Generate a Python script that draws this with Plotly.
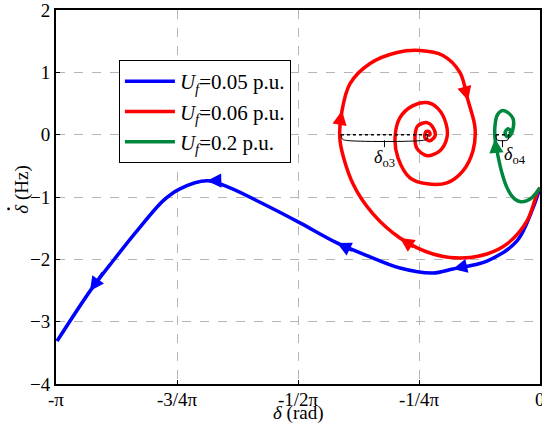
import numpy as np
import plotly.graph_objects as go

PI = np.pi

# ---- data (delta in rad, delta-dot in Hz) ----
blue_x = [0, -0.045, -0.149, -0.344, -0.565, -0.695, -0.909, -1.123, -1.318, -1.558,
          -1.798, -2.012, -2.161, -2.337, -2.447, -2.616, -2.772, -2.921, -3.135]
blue_y = [-0.853, -1.174, -1.705, -2.027, -2.155, -2.22, -2.14, -1.94, -1.737, -1.415,
          -1.109, -0.853, -0.740, -0.869, -1.062, -1.544, -2.027, -2.51, -3.313]

red_x = [0, -0.013, -0.084, -0.214, -0.344, -0.519, -0.695, -0.909, -1.084, -1.214,
         -1.298, -1.285, -1.233, -1.103, -0.928, -0.779, -0.630, -0.519, -0.467, -0.422,
         -0.435, -0.500, -0.604, -0.733, -0.844, -0.922, -0.941, -0.909, -0.824, -0.733,
         -0.662, -0.610, -0.604, -0.649, -0.733, -0.798, -0.811, -0.792, -0.733, -0.694,
         -0.681, -0.714, -0.747, -0.740, -0.720, -0.714, -0.727]
red_y = [-0.853, -0.901, -1.383, -1.753, -1.914, -1.978, -1.914, -1.657, -1.271, -0.788,
         -0.0965, 0.386, 0.820, 1.142, 1.319, 1.351, 1.271, 0.997, 0.547, 0.113,
         -0.257, -0.579, -0.772, -0.788, -0.692, -0.370, -0.048, 0.273, 0.466, 0.515,
         0.418, 0.177, -0.048, -0.257, -0.338, -0.225, -0.016, 0.145, 0.193, 0.113,
         -0.016, -0.0965, -0.048, 0.048, 0.048, 0.0, -0.016]

green_x = [0, -0.022, -0.052, -0.088, -0.125, -0.160, -0.190, -0.218, -0.242, -0.273,
           -0.292, -0.292, -0.279, -0.247, -0.208, -0.175, -0.175, -0.195, -0.214, -0.227,
           -0.208, -0.188, -0.201]
green_y = [-0.853, -0.925, -1.010, -1.062, -1.075, -1.040, -0.960, -0.830, -0.660, -0.338,
           -0.064, 0.145, 0.306, 0.386, 0.354, 0.257, 0.0965, -0.016, -0.032, 0.032,
           0.0965, 0.048, 0.016]

labels = ["<i>U</i><sub><i>f</i></sub>=0.05 p.u.",
          "<i>U</i><sub><i>f</i></sub>=0.06 p.u.",
          "<i>U</i><sub><i>f</i></sub>=0.2 p.u."]
colors = ["#0000FF", "#FF0000", "#00873E"]

arrow_idx = [[4, 8, 12, 17], [7, 11, 18], [3, 10]]

# delta_o offsets (start, end) along the delta axis
do3 = [-1.292, -0.727]
do4 = [-0.286, -0.201]

xticks = [-PI, -0.75 * PI, -0.5 * PI, -0.25 * PI, 0]
xticktext = ["-π", "-3/4π", "-1/2π", "-1/4π", "0"]
yticks = [-4, -3, -2, -1, 0, 1, 2]

FONT = "Liberation Serif, Times New Roman, serif"
FS = 19

fig = go.Figure()
series = [(blue_x, blue_y), (red_x, red_y), (green_x, green_y)]
for (xs, ys), lab, col in zip(series, labels, colors):
    fig.add_trace(go.Scatter(x=xs, y=ys, mode="lines", name=lab,
                             line=dict(color=col, width=3.5, shape="spline", smoothing=0.9)))

# arrows along the trajectories
for (xs, ys), col, idxs in zip(series, colors, arrow_idx):
    for i in idxs:
        dx = xs[i + 1] - xs[i - 1]
        dy = ys[i + 1] - ys[i - 1]
        fig.add_annotation(x=xs[i], y=ys[i], ax=xs[i] - 0.25 * dx, ay=ys[i] - 0.25 * dy,
                           xref="x", yref="y", axref="x", ayref="y", text="",
                           showarrow=True, arrowhead=2, arrowsize=0.95, arrowwidth=3,
                           arrowcolor=col, standoff=0, startstandoff=0)

# delta_o brackets
for d, lab, ly in [(do3, "<i>δ</i><sub>o3</sub>", -0.39), (do4, "<i>δ</i><sub>o4</sub>", -0.34)]:
    fig.add_trace(go.Scatter(x=[d[0], d[1]], y=[0, 0], mode="lines", showlegend=False,
                             line=dict(color="black", width=1.5, dash="dot")))
    w = d[1] - d[0]
    e = min(0.03, w * 0.15)
    bx = [d[0], d[0] + e * 0.3, d[0] + e, d[1] - e, d[1] - e * 0.3, d[1]]
    by = [0, -0.07, -0.09, -0.09, -0.07, 0]
    fig.add_trace(go.Scatter(x=bx, y=by, mode="lines", showlegend=False,
                             line=dict(color="black", width=1, shape="spline")))
    mid = (d[0] + d[1]) / 2
    fig.add_trace(go.Scatter(x=[mid, mid], y=[-0.09, -0.2], mode="lines", showlegend=False,
                             line=dict(color="black", width=1)))
    fig.add_annotation(x=mid, y=ly, text=lab, showarrow=False,
                       xref="x", yref="y", yanchor="middle",
                       xanchor="center" if d is do3 else "left",
                       font=dict(family=FONT, size=18, color="black"))

axis_common = dict(showline=True, linecolor="black", linewidth=2, mirror=True,
                   showgrid=True, gridcolor="#b5b5b5", griddash="dash", gridwidth=1,
                   zeroline=False, ticks="inside", ticklen=4, tickcolor="black",
                   ticklabeloverflow="allow",
                   tickfont=dict(family=FONT, size=FS, color="black"))

fig.update_xaxes(range=[-PI, 0], tickvals=xticks, showticklabels=False, **axis_common)
fig.update_yaxes(range=[-4, 2], tickvals=yticks, **axis_common)

# x tick labels (placed just under the axis)
for tv, tt in zip(xticks, xticktext):
    fig.add_annotation(x=tv, y=0, xref="x", yref="paper", text=tt, showarrow=False,
                       xanchor="center", yanchor="top", yshift=-3,
                       font=dict(family=FONT, size=FS, color="black"))
# x-axis title
fig.add_annotation(text="<i>δ</i> (rad)", xref="paper", yref="paper",
                   x=0.5, y=-0.078, xanchor="center", yanchor="middle", showarrow=False,
                   font=dict(family=FONT, size=FS, color="black"))

# y-axis title (delta with a dot above), drawn as rotated annotation + dot
fig.add_annotation(text="<i>δ</i> (Hz)", xref="paper", yref="paper",
                   x=-0.072, y=0.52, xanchor="center", yanchor="middle",
                   textangle=-90, showarrow=False,
                   font=dict(family=FONT, size=FS, color="black"))
fig.add_shape(type="circle", xref="paper", yref="paper",
              xsizemode="pixel", ysizemode="pixel",
              xanchor=-0.098, yanchor=0.468,
              x0=-1.4, x1=1.4, y0=-1.4, y1=1.4,
              fillcolor="black", line=dict(width=0))

fig.update_layout(
    width=542, height=429,
    margin=dict(l=56, r=2, t=10, b=45, autoexpand=False),
    paper_bgcolor="white", plot_bgcolor="white",
    showlegend=True,
    legend=dict(x=0.13, y=0.866, xanchor="left", yanchor="top",
                bgcolor="white", bordercolor="black", borderwidth=1,
                font=dict(family=FONT, size=21, color="black"),
                tracegroupgap=0, itemwidth=50),
)

fig.write_html("out.html")
